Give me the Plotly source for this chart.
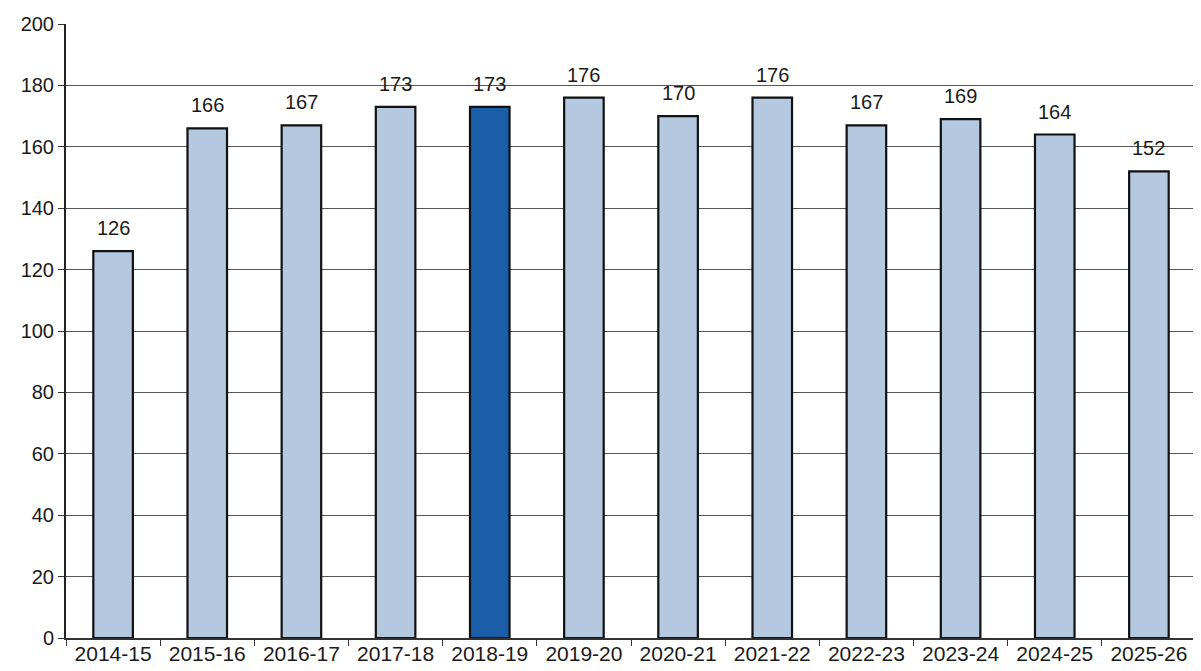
import plotly.graph_objects as go

categories = ["2014-15", "2015-16", "2016-17", "2017-18", "2018-19", "2019-20",
              "2020-21", "2021-22", "2022-23", "2023-24", "2024-25", "2025-26"]
values = [126, 166, 167, 173, 173, 176, 170, 176, 167, 169, 164, 152]
highlight = "2018-19"
y_ticks = [0, 20, 40, 60, 80, 100, 120, 140, 160, 180, 200]

light = "#b4c8e0"
dark = "#1b5ea8"
colors = [dark if c == highlight else light for c in categories]

fig = go.Figure(go.Bar(
    x=categories, y=values,
    marker=dict(color=colors, line=dict(color="#111111", width=2.2)),
    width=0.42,
    hoverinfo="x+y",
))

for c, v in zip(categories, values):
    fig.add_annotation(x=c, y=v, text=str(v), showarrow=False, yshift=23,
                       font=dict(family="Liberation Sans, Arial", size=20, color="#1a1a1a"))

fig.update_layout(
    width=1193, height=663,
    margin=dict(l=58, r=5, t=12, b=33),
    paper_bgcolor="white", plot_bgcolor="white",
    showlegend=False,
    font=dict(family="Liberation Sans, Arial", size=20, color="#1a1a1a"),
)
fig.update_xaxes(
    showline=True, linecolor="#333333", linewidth=1.5,
    ticks="outside", tickson="boundaries", ticklen=6, tickcolor="#333333",
    showgrid=False, tickfont=dict(size=21), ticklabelstandoff=-4,
)
fig.update_yaxes(
    range=[0, 200], tickvals=y_ticks,
    showline=True, linecolor="#222222", linewidth=2,
    ticks="outside", ticklen=6, tickcolor="#333333",
    showgrid=True, gridcolor="#555555", gridwidth=1,
    zeroline=False, tickfont=dict(size=20),
)

fig.write_html("out.html")
